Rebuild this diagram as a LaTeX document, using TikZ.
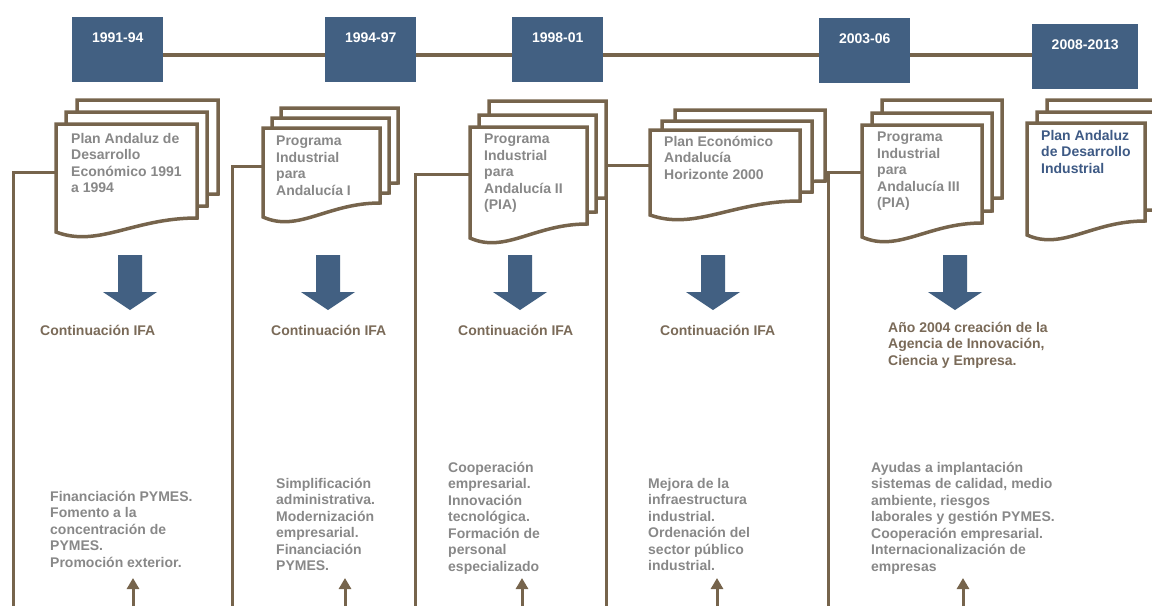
\documentclass[tikz,border=0pt]{standalone}
\usepackage{fontspec}
\setmainfont{Liberation Sans}
\usetikzlibrary{arrows.meta}

\definecolor{yearblue}{RGB}{66,96,130}
\definecolor{linebrown}{RGB}{118,100,76}
\definecolor{textgray}{RGB}{136,136,136}
\definecolor{ifabrown}{RGB}{122,106,88}
\definecolor{planblue}{RGB}{62,90,133}

\begin{document}
\begin{tikzpicture}[x=1pt, y=-1pt,
    yearbox/.style={fill=yearblue, text=white, inner sep=0pt, text height=25pt, text depth=40pt, minimum width=91pt, anchor=north west},
    timelink/.style={draw=linebrown, line width=4pt},
    framelink/.style={draw=linebrown, line width=3pt},
    docsheet/.style={draw=linebrown, fill=white, line width=3.5pt},
    plantext/.style={text=textgray, align=left, anchor=north west, inner sep=0pt},
    ifatext/.style={text=ifabrown, align=left, inner sep=0pt},
    notetext/.style={text=textgray, align=left, anchor=north west, inner sep=0pt},
    uparrow/.style={draw=linebrown, line width=3pt, -{Triangle[width=12pt,length=11pt]}},
    pics/docpage/.style n args={2}{code={
        \filldraw[docsheet] (0,0) -- (#1,0) -- (#1,#2-14)
            .. controls (0.55*#1,#2-14) and (0.3*#1,#2+16) .. (0,#2) -- cycle;}},
    pics/downarrow/.style={code={
        \fill[yearblue] (-12,0) -- (12,0) -- (12,37) -- (27,37) -- (0,55) -- (-27,37) -- (-12,37) -- cycle;}},
    every node/.style={font=\bfseries\fontsize{14}{16.5}\selectfont}]

    \useasboundingbox (0,0) rectangle (1152,606);

    % --- TIMELINE ---
    \node[yearbox] (yr1) at (72,17) {1991-94};
    \node[yearbox] (yr2) at (325,17) {1994-97};
    \node[yearbox] (yr3) at (512,17) {1998-01};
    \node[yearbox] (yr4) at (819,18) {2003-06};
    \node[yearbox, minimum width=106pt] (yr5) at (1032,24) {2008-2013};

    \coordinate (tl) at (0,55);
    \draw[timelink] (yr1.east |- tl) -- (yr2.west |- tl)
                    (yr2.east |- tl) -- (yr3.west |- tl)
                    (yr3.east |- tl) -- (yr4.west |- tl)
                    (yr4.east |- tl) -- (yr5.west |- tl);

    % --- COLUMNS ---
    % (1) 1991-94
    \begin{scope}[shift={(56,124)}]
        \pic at (21,-24) {docpage={141}{108}};
        \pic at (10,-12) {docpage={141}{108}};
        \pic at (0,0) {docpage={141}{108}};
        \node[plantext] (plan1) at (15,9) {Plan Andaluz de\\Desarrollo\\Económico 1991\\a 1994};
        \coordinate (join1) at (0,48);
    \end{scope}
    \pic at (130,255) {downarrow};
    \node[ifatext, anchor=west] (ifa1) at (40,330) {Continuación IFA};
    \node[notetext] (note1) at (50,491) {Financiación PYMES.\\Fomento a la\\concentración de\\PYMES.\\Promoción exterior.};
    \coordinate (foot1) at (13,606);
    \coordinate (base1) at (133,606);
    \draw[framelink] (join1) -| (foot1);
    \draw[uparrow] (base1) -- ++(0,-28);

    % (2) 1994-97
    \begin{scope}[shift={(263,128)}]
        \pic at (18,-20) {docpage={117}{89}};
        \pic at (9,-10) {docpage={117}{89}};
        \pic at (0,0) {docpage={117}{89}};
        \node[plantext] (plan2) at (13,8) {Programa\\Industrial\\para\\Andalucía I};
        \coordinate (join2) at (0,38);
    \end{scope}
    \pic at (328,255) {downarrow};
    \node[ifatext, anchor=west] (ifa2) at (271,330) {Continuación IFA};
    \node[notetext] (note2) at (276,478) {Simplificación\\administrativa.\\Modernización\\empresarial.\\Financiación\\PYMES.};
    \coordinate (foot2) at (232,606);
    \coordinate (base2) at (345,606);
    \draw[framelink] (join2) -| (foot2);
    \draw[uparrow] (base2) -- ++(0,-28);

    % (3) 1998-01
    \begin{scope}[shift={(470,127)}]
        \pic at (19,-26) {docpage={117}{111}};
        \pic at (9,-12) {docpage={117}{111}};
        \pic at (0,0) {docpage={117}{111}};
        \node[plantext] (plan3) at (14,7) {Programa\\Industrial\\para\\Andalucía II\\(PIA)};
        \coordinate (join3) at (0,47);
        \coordinate (edge3) at (136,-26);
    \end{scope}
    \pic at (520,255) {downarrow};
    \node[ifatext, anchor=west] (ifa3) at (458,330) {Continuación IFA};
    \node[notetext] (note3) at (448,462) {Cooperación\\empresarial.\\Innovación\\tecnológica.\\Formación de\\personal\\especializado};
    \coordinate (foot3) at (415,606);
    \coordinate (base3) at (522,606);
    \draw[framelink] (join3) -| (foot3);
    \draw[uparrow] (base3) -- ++(0,-28);

    % (4) Horizonte 2000
    \begin{scope}[shift={(650,130)}]
        \pic at (25,-20) {docpage={150}{85}};
        \pic at (12,-9) {docpage={150}{85}};
        \pic at (0,0) {docpage={150}{85}};
        \node[plantext] (plan4) at (14,6) {Plan Económico\\Andalucía\\Horizonte 2000};
        \coordinate (join4) at (0,35);
    \end{scope}
    \pic at (713,255) {downarrow};
    \node[ifatext, anchor=west] (ifa4) at (660,330) {Continuación IFA};
    \node[notetext] (note4) at (648,478) {Mejora de la\\infraestructura\\industrial.\\Ordenación del\\sector público\\industrial.};
    \coordinate (foot4) at (edge3 |- 0,606);
    \coordinate (base4) at (717,606);
    \draw[framelink] (edge3) -- (foot4);
    \draw[framelink] (join4) -- (join4 -| edge3);
    \draw[uparrow] (base4) -- ++(0,-28);

    % (5) 2003-06
    \begin{scope}[shift={(862,125)}]
        \pic at (20,-25) {docpage={120}{112}};
        \pic at (10,-12) {docpage={120}{112}};
        \pic at (0,0) {docpage={120}{112}};
        \node[plantext] (plan5) at (15,7) {Programa\\Industrial\\para\\Andalucía III\\(PIA)};
        \coordinate (join5) at (0,47);
    \end{scope}
    \pic at (955,255) {downarrow};
    \node[ifatext, anchor=north west] (ifa5) at (888,322) {Año 2004 creación de la\\Agencia de Innovación,\\Ciencia y Empresa.};
    \node[notetext] (note5) at (871,462) {Ayudas a implantación\\sistemas de calidad, medio\\ambiente, riesgos\\laborales y gestión PYMES.\\Cooperación empresarial.\\Internacionalización de\\empresas};
    \coordinate (foot5) at (828,606);
    \coordinate (base5) at (963,606);
    \draw[framelink] (join5) -| (foot5);
    \draw[uparrow] (base5) -- ++(0,-28);

    % (6) 2008-2013
    \begin{scope}[shift={(1027,123)}]
        \pic at (20,-23) {docpage={118}{112}};
        \pic at (10,-11) {docpage={118}{112}};
        \pic at (0,0) {docpage={118}{112}};
        \node[plantext, text=planblue] (plan6) at (14,7) {Plan Andaluz\\de Desarrollo\\Industrial};
    \end{scope}

\end{tikzpicture}
\end{document}
